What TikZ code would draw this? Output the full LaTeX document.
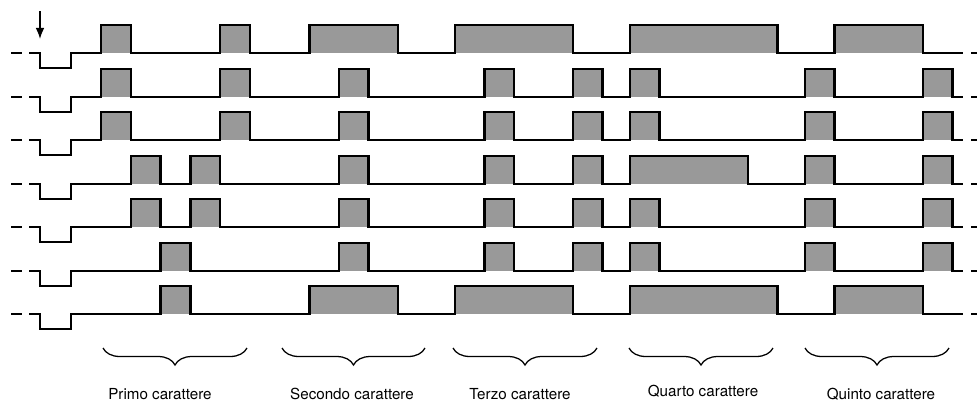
\documentclass[tikz,border=0pt]{standalone}
\usepackage{fontspec}
\setmainfont{TeX Gyre Heros}
\usetikzlibrary{arrows.meta,decorations.pathreplacing}

\tikzset{
  impulso/.style={fill=black!40},
  onda/.style={line width=1.7pt},
  graffa/.style={decorate,decoration={brace,mirror,amplitude=4.25mm},line width=0.9pt},
  freccia/.style={-{Latex[length=2.8mm,width=2.2mm]},line width=1pt},
  etichetta/.style={font=\fontsize{10.8}{13}\selectfont,anchor=base}
}

% una riga: #1 = livello di base, #2 = impulsi (inizio/fine)
\newcommand\riga[2]{%
  \foreach \xa/\xb in {#2} \fill[impulso] (\xa,#1) rectangle (\xb,#1-28);
  \draw[onda] (11,#1) -- (22,#1);
  \draw[onda] (29,#1) -- (40,#1) -- (40,#1+15) -- (71,#1+15) -- (71,#1)
    \foreach \xa/\xb in {#2} { -- (\xa,#1) -- (\xa,#1-28) -- (\xb,#1-28) -- (\xb,#1) } -- (963,#1);
  \draw[onda] (971,#1) -- (979,#1);
}

\begin{document}
\begin{tikzpicture}[x=0.25mm,y=-0.25mm]
  \useasboundingbox (0,0) rectangle (977,401);
  % Impulso di avvio
  \draw[freccia] (40,11) -- (40,39);
  % Righe
  \riga{53}{101/130.8, 220.2/250, 309.5/398, 455/573, 630/777.5, 834.5/923}
  \riga{97}{101/130.8, 220.2/250, 339/368.5, 484.5/514, 573/602.5, 630/659.5, 805/834.5, 923/952.5}
  \riga{140}{101/130.8, 220.2/250, 339/368.5, 484.5/514, 573/602.5, 630/659.5, 805/834.5, 923/952.5}
  \riga{184}{130.8/160.6, 190.4/220.2, 339/368.5, 484.5/514, 573/602.5, 630/748, 805/834.5, 923/952.5}
  \riga{227}{130.8/160.6, 190.4/220.2, 339/368.5, 484.5/514, 573/602.5, 630/659.5, 805/834.5, 923/952.5}
  \riga{271}{160.6/190.4, 339/368.5, 484.5/514, 573/602.5, 630/659.5, 805/834.5, 923/952.5}
  \riga{314}{160.6/190.4, 309.5/398, 455/573, 630/777.5, 834.5/923}
  % Graffe
  \foreach \xa/\xb in {103/247, 282/425, 453/597, 629/773, 805/949}
    \draw[graffa] (\xa,348) -- (\xb,348);
  % Etichette
  \node[etichetta] (primo) at (160,399) {Primo carattere};
  \node[etichetta] (secondo) at (352,399) {Secondo carattere};
  \node[etichetta] (terzo) at (520,399) {Terzo carattere};
  \node[etichetta] (quarto) at (703,396) {Quarto carattere};
  \node[etichetta] (quinto) at (881,399) {Quinto carattere};
\end{tikzpicture}
\end{document}
